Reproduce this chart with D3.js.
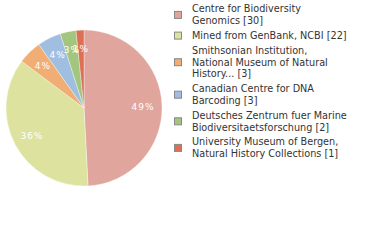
<!DOCTYPE html>
<html>
<head>
<meta charset="utf-8">
<script src="https://cdn.jsdelivr.net/npm/d3@7"></script>
<style>
  body { margin: 0; background: #fff; }
  svg { display: block; }
</style>
</head>
<body>
<svg id="chart" width="380" height="240"></svg>
<script>
// data
const labels = [
	["Centre for Biodiversity", "Genomics [30]"],
	["Mined from GenBank, NCBI [22]"],
	["Smithsonian Institution,", "National Museum of Natural", "History... [3]"],
	["Canadian Centre for DNA", "Barcoding [3]"],
	["Deutsches Zentrum fuer Marine", "Biodiversitaetsforschung [2]"],
	["University Museum of Bergen,", "Natural History Collections [1]"]
];
const counts = [30, 22, 3, 3, 2, 1];
const pctLabels = ["49%", "36%", "4%", "4%", "3%", "1%"];
const colors = ["#e0a59d", "#dde39f", "#f0ad74", "#9fbee0", "#a2c67e", "#de6f55"];

const svg = d3.select("#chart");
const cx = 84, cy = 108, r = 78;

let pie = d3.pie().sort(null).value(d => d)(counts);
let arc = d3.arc().innerRadius(0).outerRadius(r);
let labelArc = d3.arc().innerRadius(59).outerRadius(59);

let g = svg.append("g").attr("transform", `translate(${cx},${cy})`);

g.selectAll("path")
	.data(pie)
	.enter().append("path")
	.attr("d", arc)
	.attr("fill", (d, i) => colors[i])
	.attr("stroke", "#fff")
	.attr("stroke-opacity", 0.5)
	.attr("stroke-width", 0.7);

//small slices sit close together, labels touch like in the original
g.selectAll("text")
	.data(pie)
	.enter().append("text")
	.attr("transform", d => `translate(${labelArc.centroid(d)})`)
	.attr("text-anchor", "middle")
	.attr("dy", "0.35em")
	.attr("fill", "#fff")
	.attr("font-family", "DejaVu Sans")
	.attr("font-size", 9)
	.attr("letter-spacing", 1)
	.text((d, i) => pctLabels[i]);

// legend
const lineH = 11.8, gap = 3, firstY = 9;
let legend = svg.append("g").attr("font-family", "DejaVu Sans").attr("font-size", 9.7).attr("fill", "#333");
let y = firstY;
labels.forEach(function(lines, i){
	let mid = y + (lines.length - 1) * lineH / 2;
	legend.append("rect")
		.attr("x", 174.5).attr("y", mid - 3.5)
		.attr("width", 7).attr("height", 7)
		.attr("fill", colors[i])
		.attr("stroke", "#888")
		.attr("stroke-width", 1);
	lines.forEach(function(t, j){
		legend.append("text")
			.attr("x", 192)
			.attr("y", y + j * lineH)
			.attr("dy", "0.35em")
			.text(t);
	});
	y += lines.length * lineH + gap;
});
</script>
</body>
</html>
